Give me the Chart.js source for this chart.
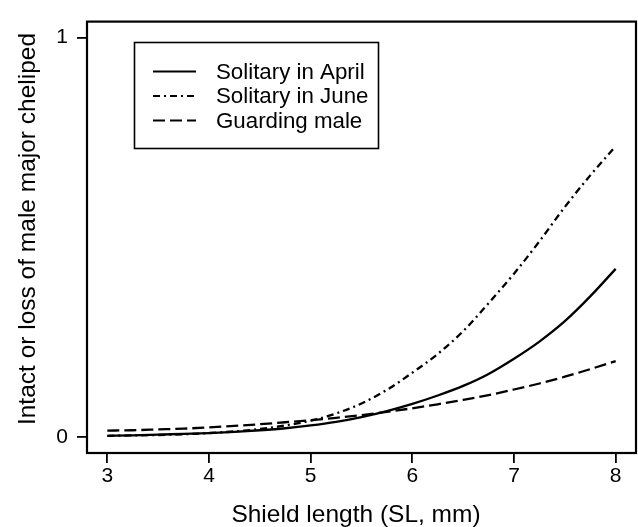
<!DOCTYPE html>
<html>
<head>
<meta charset="utf-8">
<script src="https://cdn.jsdelivr.net/npm/chart.js@4"></script>
<style>
  html, body { margin: 0; padding: 0; background: #fff; }
  canvas { display: block; }
</style>
</head>
<body>
<canvas id="chart" width="638" height="527"></canvas>
<script>
// values
const xValues = [3, 3.25, 3.5, 3.75, 4, 4.25, 4.5, 4.75, 5, 5.25, 5.5, 5.75, 6, 6.25, 6.5, 6.75, 7, 7.25, 7.5, 7.75, 8];
const aprilValues = [0.003, 0.004, 0.006, 0.008, 0.010, 0.013, 0.017, 0.022, 0.029, 0.038, 0.050, 0.065, 0.083, 0.104, 0.128, 0.158, 0.196, 0.239, 0.290, 0.352, 0.421];
const juneValues = [0.003, 0.004, 0.005, 0.007, 0.010, 0.014, 0.020, 0.029, 0.041, 0.059, 0.084, 0.118, 0.161, 0.208, 0.265, 0.335, 0.409, 0.490, 0.576, 0.655, 0.728];
const guardValues = [0.016, 0.017, 0.019, 0.021, 0.024, 0.028, 0.032, 0.037, 0.042, 0.048, 0.055, 0.063, 0.072, 0.082, 0.093, 0.105, 0.119, 0.134, 0.151, 0.170, 0.190];

const seriesLabels = ["Solitary in April", "Solitary in June", "Guarding male"];
const xTicks = [3, 4, 5, 6, 7, 8];
const yTicks = [0, 1];
const xTitle = "Shield length (SL, mm)";
const yTitle = "Intact or loss of male major cheliped";

const FONT = "'Liberation Sans', Arial, Helvetica, sans-serif";

function pts(ys) {
  return xValues.map((x, i) => ({ x, y: ys[i] }));
}

// box, axis titles and legend, drawn the way R draws them
const frame = {
  id: "frame",
  afterDraw(chart) {
    const { ctx, chartArea: a } = chart;
    ctx.save();
    ctx.strokeStyle = "#000";
    ctx.lineWidth = 2.2;
    ctx.strokeRect(a.left, a.top, a.right - a.left, a.bottom - a.top);

    ctx.fillStyle = "#000";
    ctx.font = "24.5px " + FONT;
    ctx.textAlign = "center";
    ctx.textBaseline = "middle";
    ctx.fillText(xTitle, 356, 515);
    ctx.translate(28, 229);
    ctx.rotate(-Math.PI / 2);
    ctx.fillText(yTitle, 0, 0);
    ctx.restore();

    // legend
    ctx.save();
    ctx.lineWidth = 1.6;
    ctx.strokeStyle = "#000";
    ctx.strokeRect(134.5, 42.5, 244, 106);
    ctx.font = "22.3px " + FONT;
    ctx.textBaseline = "middle";
    ctx.fillStyle = "#000";
    const rows = [71.5, 96, 120.5];
    chart.data.datasets.forEach((ds, i) => {
      ctx.beginPath();
      ctx.lineWidth = 2.2;
      ctx.setLineDash(ds.borderDash || []);
      ctx.moveTo(153, rows[i]);
      ctx.lineTo(196, rows[i]);
      ctx.stroke();
      ctx.setLineDash([]);
      ctx.fillText(ds.label, 216, rows[i] + 1);
    });
    ctx.restore();
  }
};

new Chart(document.getElementById("chart"), {
  type: "line",
  data: {
    datasets: [
      { label: seriesLabels[0], data: pts(aprilValues), borderDash: [] },
      { label: seriesLabels[1], data: pts(juneValues), borderDash: [7, 4, 2, 4] },
      { label: seriesLabels[2], data: pts(guardValues), borderDash: [12, 5] }
    ].map(d => Object.assign(d, {
      borderColor: "#000", borderWidth: 2.3, pointRadius: 0,
      fill: false, cubicInterpolationMode: "monotone"
    }))
  },
  options: {
    responsive: false,
    animation: false,
    devicePixelRatio: 1,
    layout: { padding: { top: 13, right: 2, left: 0, bottom: 0 } },
    plugins: { legend: { display: false }, tooltip: { enabled: false } },
    scales: {
      x: {
        type: "linear", min: 2.8, max: 8.2,
        afterBuildTicks: s => { s.ticks = xTicks.map(v => ({ value: v })); },
        afterFit: s => { s.height = 74; },
        grid: { drawOnChartArea: false, drawTicks: true, tickLength: 10, color: "#000", lineWidth: 1.8 },
        border: { display: false },
        ticks: { color: "#000", font: { family: FONT, size: 21 }, padding: 1, maxRotation: 0 }
      },
      y: {
        type: "linear", min: -0.04, max: 1.04,
        afterBuildTicks: s => { s.ticks = yTicks.map(v => ({ value: v })); },
        afterFit: s => { s.width = 87; },
        grid: { drawOnChartArea: false, drawTicks: true, tickLength: 10, color: "#000", lineWidth: 1.8 },
        border: { display: false },
        ticks: { color: "#000", font: { family: FONT, size: 21 }, padding: 9 }
      }
    }
  },
  plugins: [frame]
});
</script>
</body>
</html>
